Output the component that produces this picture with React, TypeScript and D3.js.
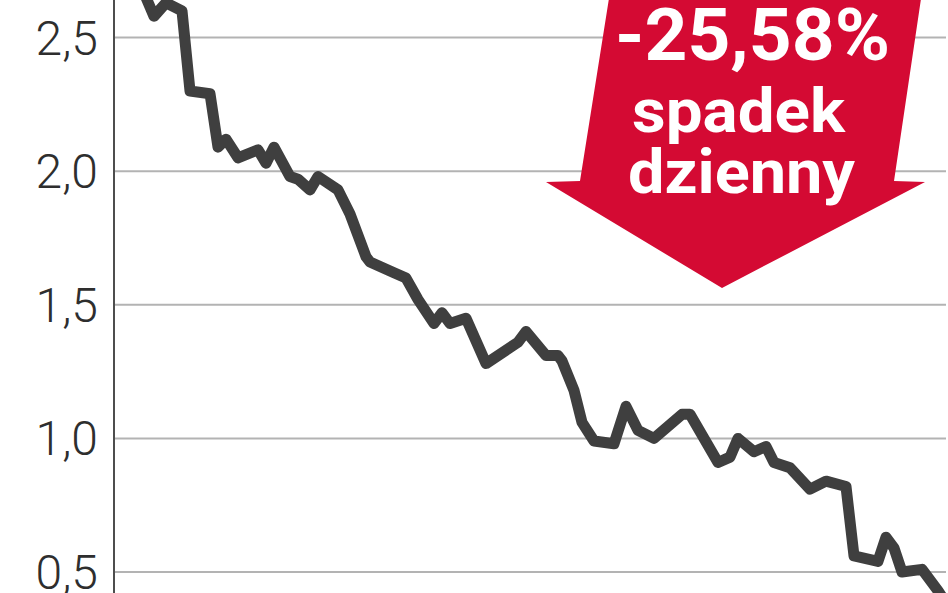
import * as d3 from 'd3'
import { useEffect, useRef } from 'react'

const W = 948
const H = 593
const AXIS_X = 114
const RIGHT_X = 946

// trading session index (no labels on x axis in the source)
const days = [
  8, 10, 13, 17, 19, 24, 26, 28, 31, 36, 38, 40, 44, 46, 49, 51, 56, 59, 63, 64,
  70, 73, 76, 80, 82, 84, 88, 93, 101, 103, 108, 111, 112, 115, 117, 120, 125, 128,
  131, 135, 142, 144, 151, 154, 156, 160, 163, 165, 169, 174, 178, 183, 185, 191,
  193, 195, 197, 202, 206, 209,
]
const prices = [
  2.65, 2.58, 2.63, 2.6, 2.3, 2.29, 2.09, 2.12, 2.05, 2.08, 2.03, 2.09, 1.98, 1.97,
  1.93, 1.98, 1.93, 1.84, 1.68, 1.66, 1.62, 1.6, 1.52, 1.43, 1.47, 1.43, 1.45, 1.28,
  1.36, 1.4, 1.31, 1.31, 1.29, 1.18, 1.06, 0.99, 0.98, 1.12, 1.03, 1.0, 1.09, 1.09,
  0.91, 0.93, 1.0, 0.95, 0.97, 0.91, 0.89, 0.81, 0.84, 0.82, 0.56, 0.54, 0.63, 0.59,
  0.5, 0.51, 0.43, 0.36,
]
const yTicks = [0.5, 1.0, 1.5, 2.0, 2.5]

const badgeLines = ['-25,58%', 'spadek', 'dzienny']

const plLocale = d3.formatLocale({ decimal: ',', thousands: ' ', grouping: [3], currency: ['', ' zł'] })
const fmt = plLocale.format('.1f')

export default function App() {
  const svgRef = useRef<SVGSVGElement>(null)

  useEffect(() => {
    document.body.style.margin = '0'
    if (!svgRef.current) return
    const svg = d3.select(svgRef.current)
    svg.selectAll('*').remove()

    const x = d3.scaleLinear().domain([0, 208]).range([AXIS_X, RIGHT_X])
    const y = d3.scaleLinear().domain([0.5, 2.5]).range([572, 37.6])

    // gridlines
    svg.append('g')
      .selectAll('line')
      .data(yTicks)
      .enter()
      .append('line')
      .attr('x1', AXIS_X)
      .attr('x2', RIGHT_X)
      .attr('y1', d => y(d))
      .attr('y2', d => y(d))
      .attr('stroke', '#b3b3b3')
      .attr('stroke-width', 2)

    // tick labels
    svg.append('g')
      .selectAll('text')
      .data(yTicks)
      .enter()
      .append('text')
      .attr('x', 98)
      .attr('y', d => y(d) + 17)
      .attr('text-anchor', 'end')
      .attr('font-family', 'Roboto, sans-serif')
      .attr('font-weight', 300)
      .attr('font-size', 48)
      .attr('fill', '#2e2e2e')
      .text(d => fmt(d))

    // y axis line
    svg.append('line')
      .attr('x1', AXIS_X)
      .attr('x2', AXIS_X)
      .attr('y1', 0)
      .attr('y2', H)
      .attr('stroke', '#4d4d4d')
      .attr('stroke-width', 2)

    // price line
    const pts: [number, number][] = days.map((d, i) => [d, prices[i]])
    const line = d3.line<[number, number]>()
      .x(d => x(d[0]))
      .y(d => y(d[1]))
    svg.append('path')
      .attr('d', line(pts) ?? '')
      .attr('fill', 'none')
      .attr('stroke', '#3f3f3f')
      .attr('stroke-width', 11)
      .attr('stroke-linejoin', 'round')
      .attr('stroke-linecap', 'round')

    // red arrow badge
    const arrow: [number, number][] = [
      [610, -8], [922, -8], [894, 181], [925, 182], [722, 288], [546, 182], [580, 181],
    ]
    svg.append('path')
      .attr('d', 'M' + arrow.map(p => p.join(',')).join('L') + 'Z')
      .attr('fill', '#d40a33')

    const labels = [
      { x: 615, y: 60, size: 73, len: 275 },
      { x: 632, y: 132, size: 62, len: 213 },
      { x: 628, y: 193, size: 62, len: 227 },
    ]
    svg.append('g')
      .selectAll('text')
      .data(badgeLines)
      .enter()
      .append('text')
      .attr('x', (_, i) => labels[i].x)
      .attr('y', (_, i) => labels[i].y)
      .attr('font-family', 'Roboto, sans-serif')
      .attr('font-weight', 700)
      .attr('font-size', (_, i) => labels[i].size)
      .attr('textLength', (_, i) => labels[i].len)
      .attr('lengthAdjust', 'spacingAndGlyphs')
      .attr('fill', '#ffffff')
      .text(d => d)
  }, [])

  return <svg ref={svgRef} width={W} height={H} style={{ display: 'block', background: '#fff' }} />
}
